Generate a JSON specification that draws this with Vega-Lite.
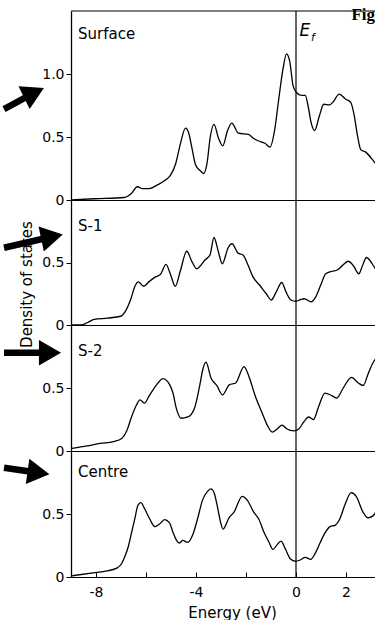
{
  "$schema": "https://vega.github.io/schema/vega-lite/v6.json",
  "background": "white",
  "padding": {"left": 0, "top": 6, "right": 0, "bottom": 0},
  "autosize": {"type": "pad"},
  "bounds": "flush",
  "spacing": 0,
  "config": {
    "view": {"stroke": null},
    "font": "DejaVu Sans",
    "axis": {
      "grid": false,
      "domainColor": "black",
      "tickColor": "black",
      "labelColor": "black",
      "titleColor": "black",
      "labelFont": "DejaVu Sans",
      "titleFont": "DejaVu Sans",
      "labelFontSize": 14,
      "titleFontSize": 15,
      "titleFontWeight": "normal"
    }
  },
  "datasets": {
    "dos": [
      {"panel": "Surface", "energy": -8.97, "dos": 0.0},
      {"panel": "Surface", "energy": -8.06, "dos": 0.01},
      {"panel": "Surface", "energy": -6.87, "dos": 0.02},
      {"panel": "Surface", "energy": -6.6, "dos": 0.05},
      {"panel": "Surface", "energy": -6.34, "dos": 0.105},
      {"panel": "Surface", "energy": -6.14, "dos": 0.09},
      {"panel": "Surface", "energy": -5.87, "dos": 0.09},
      {"panel": "Surface", "energy": -5.54, "dos": 0.12},
      {"panel": "Surface", "energy": -5.21, "dos": 0.16},
      {"panel": "Surface", "energy": -5.01, "dos": 0.2},
      {"panel": "Surface", "energy": -4.81, "dos": 0.29},
      {"panel": "Surface", "energy": -4.62, "dos": 0.45},
      {"panel": "Surface", "energy": -4.42, "dos": 0.57},
      {"panel": "Surface", "energy": -4.29, "dos": 0.53},
      {"panel": "Surface", "energy": -4.15, "dos": 0.4},
      {"panel": "Surface", "energy": -4.02, "dos": 0.28},
      {"panel": "Surface", "energy": -3.82, "dos": 0.23},
      {"panel": "Surface", "energy": -3.69, "dos": 0.21},
      {"panel": "Surface", "energy": -3.56, "dos": 0.29},
      {"panel": "Surface", "energy": -3.43, "dos": 0.5},
      {"panel": "Surface", "energy": -3.28, "dos": 0.6},
      {"panel": "Surface", "energy": -3.1, "dos": 0.49},
      {"panel": "Surface", "energy": -2.93, "dos": 0.43},
      {"panel": "Surface", "energy": -2.74, "dos": 0.55},
      {"panel": "Surface", "energy": -2.57, "dos": 0.61},
      {"panel": "Surface", "energy": -2.3, "dos": 0.53},
      {"panel": "Surface", "energy": -1.9, "dos": 0.52},
      {"panel": "Surface", "energy": -1.71, "dos": 0.49},
      {"panel": "Surface", "energy": -1.51, "dos": 0.47},
      {"panel": "Surface", "energy": -1.24, "dos": 0.45},
      {"panel": "Surface", "energy": -1.04, "dos": 0.42},
      {"panel": "Surface", "energy": -0.85, "dos": 0.56},
      {"panel": "Surface", "energy": -0.71, "dos": 0.77},
      {"panel": "Surface", "energy": -0.52, "dos": 1.04},
      {"panel": "Surface", "energy": -0.38, "dos": 1.16},
      {"panel": "Surface", "energy": -0.25, "dos": 1.1},
      {"panel": "Surface", "energy": -0.12, "dos": 0.91},
      {"panel": "Surface", "energy": 0.01, "dos": 0.855},
      {"panel": "Surface", "energy": 0.21, "dos": 0.83},
      {"panel": "Surface", "energy": 0.37, "dos": 0.83},
      {"panel": "Surface", "energy": 0.48, "dos": 0.75},
      {"panel": "Surface", "energy": 0.61, "dos": 0.61},
      {"panel": "Surface", "energy": 0.74, "dos": 0.55},
      {"panel": "Surface", "energy": 0.94, "dos": 0.67},
      {"panel": "Surface", "energy": 1.11, "dos": 0.76},
      {"panel": "Surface", "energy": 1.34, "dos": 0.755},
      {"panel": "Surface", "energy": 1.47, "dos": 0.775},
      {"panel": "Surface", "energy": 1.73, "dos": 0.84},
      {"panel": "Surface", "energy": 1.99, "dos": 0.8},
      {"panel": "Surface", "energy": 2.19, "dos": 0.775},
      {"panel": "Surface", "energy": 2.33, "dos": 0.67},
      {"panel": "Surface", "energy": 2.46, "dos": 0.51},
      {"panel": "Surface", "energy": 2.59, "dos": 0.4},
      {"panel": "Surface", "energy": 2.79, "dos": 0.38},
      {"panel": "Surface", "energy": 3.06, "dos": 0.32},
      {"panel": "Surface", "energy": 3.25, "dos": 0.27},

      {"panel": "S-1", "energy": -9.0, "dos": 0.0},
      {"panel": "S-1", "energy": -8.6, "dos": 0.0},
      {"panel": "S-1", "energy": -8.33, "dos": 0.02},
      {"panel": "S-1", "energy": -8.07, "dos": 0.045},
      {"panel": "S-1", "energy": -7.54, "dos": 0.055},
      {"panel": "S-1", "energy": -7.01, "dos": 0.07},
      {"panel": "S-1", "energy": -6.81, "dos": 0.115},
      {"panel": "S-1", "energy": -6.62, "dos": 0.2},
      {"panel": "S-1", "energy": -6.42, "dos": 0.32},
      {"panel": "S-1", "energy": -6.31, "dos": 0.345},
      {"panel": "S-1", "energy": -6.09, "dos": 0.31},
      {"panel": "S-1", "energy": -5.89, "dos": 0.345},
      {"panel": "S-1", "energy": -5.62, "dos": 0.385},
      {"panel": "S-1", "energy": -5.42, "dos": 0.405},
      {"panel": "S-1", "energy": -5.2, "dos": 0.485},
      {"panel": "S-1", "energy": -5.03, "dos": 0.41},
      {"panel": "S-1", "energy": -4.83, "dos": 0.31},
      {"panel": "S-1", "energy": -4.63, "dos": 0.43},
      {"panel": "S-1", "energy": -4.37, "dos": 0.59},
      {"panel": "S-1", "energy": -4.17, "dos": 0.51},
      {"panel": "S-1", "energy": -3.97, "dos": 0.45},
      {"panel": "S-1", "energy": -3.64, "dos": 0.52},
      {"panel": "S-1", "energy": -3.44, "dos": 0.56},
      {"panel": "S-1", "energy": -3.28, "dos": 0.7},
      {"panel": "S-1", "energy": -3.11, "dos": 0.59},
      {"panel": "S-1", "energy": -2.95, "dos": 0.49},
      {"panel": "S-1", "energy": -2.71, "dos": 0.62},
      {"panel": "S-1", "energy": -2.56, "dos": 0.65},
      {"panel": "S-1", "energy": -2.32, "dos": 0.575},
      {"panel": "S-1", "energy": -2.12, "dos": 0.56},
      {"panel": "S-1", "energy": -1.92, "dos": 0.48},
      {"panel": "S-1", "energy": -1.72, "dos": 0.385},
      {"panel": "S-1", "energy": -1.46, "dos": 0.32},
      {"panel": "S-1", "energy": -1.19, "dos": 0.25},
      {"panel": "S-1", "energy": -0.99, "dos": 0.2},
      {"panel": "S-1", "energy": -0.79, "dos": 0.265},
      {"panel": "S-1", "energy": -0.57, "dos": 0.34},
      {"panel": "S-1", "energy": -0.4, "dos": 0.265},
      {"panel": "S-1", "energy": -0.2, "dos": 0.2},
      {"panel": "S-1", "energy": 0.0, "dos": 0.19},
      {"panel": "S-1", "energy": 0.2, "dos": 0.205},
      {"panel": "S-1", "energy": 0.33, "dos": 0.21},
      {"panel": "S-1", "energy": 0.6, "dos": 0.185},
      {"panel": "S-1", "energy": 0.79, "dos": 0.225},
      {"panel": "S-1", "energy": 0.99, "dos": 0.32},
      {"panel": "S-1", "energy": 1.19, "dos": 0.41},
      {"panel": "S-1", "energy": 1.45, "dos": 0.43},
      {"panel": "S-1", "energy": 1.65, "dos": 0.44},
      {"panel": "S-1", "energy": 1.85, "dos": 0.475},
      {"panel": "S-1", "energy": 2.09, "dos": 0.51},
      {"panel": "S-1", "energy": 2.31, "dos": 0.47},
      {"panel": "S-1", "energy": 2.51, "dos": 0.41},
      {"panel": "S-1", "energy": 2.67, "dos": 0.48},
      {"panel": "S-1", "energy": 2.82, "dos": 0.54},
      {"panel": "S-1", "energy": 2.98, "dos": 0.51},
      {"panel": "S-1", "energy": 3.11, "dos": 0.47},
      {"panel": "S-1", "energy": 3.25, "dos": 0.43},

      {"panel": "S-2", "energy": -8.96, "dos": 0.02},
      {"panel": "S-2", "energy": -8.36, "dos": 0.04},
      {"panel": "S-2", "energy": -7.83, "dos": 0.06},
      {"panel": "S-2", "energy": -7.3, "dos": 0.075},
      {"panel": "S-2", "energy": -6.97, "dos": 0.1},
      {"panel": "S-2", "energy": -6.77, "dos": 0.16},
      {"panel": "S-2", "energy": -6.58, "dos": 0.27},
      {"panel": "S-2", "energy": -6.38, "dos": 0.365},
      {"panel": "S-2", "energy": -6.24, "dos": 0.405},
      {"panel": "S-2", "energy": -6.07, "dos": 0.38},
      {"panel": "S-2", "energy": -5.85, "dos": 0.445},
      {"panel": "S-2", "energy": -5.58, "dos": 0.525},
      {"panel": "S-2", "energy": -5.32, "dos": 0.575},
      {"panel": "S-2", "energy": -5.05, "dos": 0.525},
      {"panel": "S-2", "energy": -4.92, "dos": 0.46},
      {"panel": "S-2", "energy": -4.79, "dos": 0.34},
      {"panel": "S-2", "energy": -4.59, "dos": 0.26},
      {"panel": "S-2", "energy": -4.33, "dos": 0.27},
      {"panel": "S-2", "energy": -4.06, "dos": 0.34},
      {"panel": "S-2", "energy": -3.86, "dos": 0.51},
      {"panel": "S-2", "energy": -3.73, "dos": 0.645},
      {"panel": "S-2", "energy": -3.6, "dos": 0.705},
      {"panel": "S-2", "energy": -3.4, "dos": 0.58},
      {"panel": "S-2", "energy": -3.17, "dos": 0.52},
      {"panel": "S-2", "energy": -2.94, "dos": 0.445},
      {"panel": "S-2", "energy": -2.67, "dos": 0.525},
      {"panel": "S-2", "energy": -2.41, "dos": 0.54},
      {"panel": "S-2", "energy": -2.08, "dos": 0.67},
      {"panel": "S-2", "energy": -1.88, "dos": 0.59},
      {"panel": "S-2", "energy": -1.62, "dos": 0.43},
      {"panel": "S-2", "energy": -1.35, "dos": 0.3},
      {"panel": "S-2", "energy": -1.15, "dos": 0.205},
      {"panel": "S-2", "energy": -0.95, "dos": 0.15},
      {"panel": "S-2", "energy": -0.75, "dos": 0.175},
      {"panel": "S-2", "energy": -0.56, "dos": 0.205},
      {"panel": "S-2", "energy": -0.36, "dos": 0.175},
      {"panel": "S-2", "energy": -0.09, "dos": 0.16},
      {"panel": "S-2", "energy": 0.11, "dos": 0.175},
      {"panel": "S-2", "energy": 0.31, "dos": 0.23},
      {"panel": "S-2", "energy": 0.5, "dos": 0.27},
      {"panel": "S-2", "energy": 0.7, "dos": 0.25},
      {"panel": "S-2", "energy": 0.9, "dos": 0.35},
      {"panel": "S-2", "energy": 1.16, "dos": 0.46},
      {"panel": "S-2", "energy": 1.43, "dos": 0.44},
      {"panel": "S-2", "energy": 1.63, "dos": 0.42},
      {"panel": "S-2", "energy": 1.89, "dos": 0.5},
      {"panel": "S-2", "energy": 2.22, "dos": 0.585},
      {"panel": "S-2", "energy": 2.49, "dos": 0.54},
      {"panel": "S-2", "energy": 2.69, "dos": 0.52},
      {"panel": "S-2", "energy": 2.88, "dos": 0.61},
      {"panel": "S-2", "energy": 3.08, "dos": 0.7},
      {"panel": "S-2", "energy": 3.21, "dos": 0.74},

      {"panel": "Centre", "energy": -8.95, "dos": 0.01},
      {"panel": "Centre", "energy": -8.04, "dos": 0.035},
      {"panel": "Centre", "energy": -7.51, "dos": 0.05},
      {"panel": "Centre", "energy": -7.17, "dos": 0.07},
      {"panel": "Centre", "energy": -6.98, "dos": 0.105},
      {"panel": "Centre", "energy": -6.85, "dos": 0.16},
      {"panel": "Centre", "energy": -6.71, "dos": 0.24},
      {"panel": "Centre", "energy": -6.58, "dos": 0.35},
      {"panel": "Centre", "energy": -6.45, "dos": 0.46},
      {"panel": "Centre", "energy": -6.32, "dos": 0.57},
      {"panel": "Centre", "energy": -6.21, "dos": 0.59},
      {"panel": "Centre", "energy": -6.05, "dos": 0.54},
      {"panel": "Centre", "energy": -5.85, "dos": 0.46},
      {"panel": "Centre", "energy": -5.65, "dos": 0.4},
      {"panel": "Centre", "energy": -5.46, "dos": 0.42},
      {"panel": "Centre", "energy": -5.26, "dos": 0.455},
      {"panel": "Centre", "energy": -5.06, "dos": 0.43},
      {"panel": "Centre", "energy": -4.93, "dos": 0.36},
      {"panel": "Centre", "energy": -4.79, "dos": 0.295},
      {"panel": "Centre", "energy": -4.66, "dos": 0.27},
      {"panel": "Centre", "energy": -4.53, "dos": 0.29},
      {"panel": "Centre", "energy": -4.33, "dos": 0.275},
      {"panel": "Centre", "energy": -4.13, "dos": 0.335},
      {"panel": "Centre", "energy": -3.94, "dos": 0.46},
      {"panel": "Centre", "energy": -3.74, "dos": 0.61},
      {"panel": "Centre", "energy": -3.54, "dos": 0.68},
      {"panel": "Centre", "energy": -3.4, "dos": 0.7},
      {"panel": "Centre", "energy": -3.27, "dos": 0.665},
      {"panel": "Centre", "energy": -3.14, "dos": 0.555},
      {"panel": "Centre", "energy": -3.01, "dos": 0.43},
      {"panel": "Centre", "energy": -2.92, "dos": 0.38},
      {"panel": "Centre", "energy": -2.68, "dos": 0.47},
      {"panel": "Centre", "energy": -2.48, "dos": 0.515},
      {"panel": "Centre", "energy": -2.15, "dos": 0.64},
      {"panel": "Centre", "energy": -1.95, "dos": 0.61},
      {"panel": "Centre", "energy": -1.69, "dos": 0.515},
      {"panel": "Centre", "energy": -1.49, "dos": 0.46},
      {"panel": "Centre", "energy": -1.29, "dos": 0.36},
      {"panel": "Centre", "energy": -1.09, "dos": 0.28},
      {"panel": "Centre", "energy": -0.92, "dos": 0.22},
      {"panel": "Centre", "energy": -0.76, "dos": 0.255},
      {"panel": "Centre", "energy": -0.6, "dos": 0.285},
      {"panel": "Centre", "energy": -0.43, "dos": 0.225},
      {"panel": "Centre", "energy": -0.23, "dos": 0.145},
      {"panel": "Centre", "energy": -0.03, "dos": 0.125},
      {"panel": "Centre", "energy": 0.17, "dos": 0.135},
      {"panel": "Centre", "energy": 0.37, "dos": 0.155},
      {"panel": "Centre", "energy": 0.59, "dos": 0.14},
      {"panel": "Centre", "energy": 0.76, "dos": 0.185},
      {"panel": "Centre", "energy": 0.96, "dos": 0.27},
      {"panel": "Centre", "energy": 1.16, "dos": 0.35},
      {"panel": "Centre", "energy": 1.36, "dos": 0.4},
      {"panel": "Centre", "energy": 1.56, "dos": 0.41},
      {"panel": "Centre", "energy": 1.75, "dos": 0.46},
      {"panel": "Centre", "energy": 1.95, "dos": 0.57},
      {"panel": "Centre", "energy": 2.21, "dos": 0.67},
      {"panel": "Centre", "energy": 2.41, "dos": 0.64},
      {"panel": "Centre", "energy": 2.68, "dos": 0.515},
      {"panel": "Centre", "energy": 2.88, "dos": 0.47},
      {"panel": "Centre", "energy": 3.08, "dos": 0.485},
      {"panel": "Centre", "energy": 3.27, "dos": 0.545}
    ],
    "notes": [
      {"panel": "Surface", "role": "name", "text": "Surface", "energy": -8.72, "dos": 1.317},
      {"panel": "S-1", "role": "name", "text": "S-1", "energy": -8.72, "dos": 0.79},
      {"panel": "S-2", "role": "name", "text": "S-2", "energy": -8.72, "dos": 0.79},
      {"panel": "Centre", "role": "name", "text": "Centre", "energy": -8.72, "dos": 0.83},
      {"panel": "Surface", "role": "fermi", "text": "E", "energy": 0.14, "dos": 1.34},
      {"panel": "Surface", "role": "fermi-sub", "text": "f", "energy": 0.6, "dos": 1.285},
      {"panel": "Surface", "role": "fig", "text": "Fig", "energy": 3.16, "dos": 1.5}
    ],
    "arrows": [
      {"panel": "Surface", "tailE": -11.68, "tailD": 0.722, "headE": -10.48, "headD": 0.851, "direction": -26},
      {"panel": "S-1", "tailE": -11.68, "tailD": 0.618, "headE": -9.76, "headD": 0.706, "direction": -12},
      {"panel": "S-2", "tailE": -11.68, "tailD": 0.78, "headE": -9.84, "headD": 0.78, "direction": 0},
      {"panel": "Centre", "tailE": -11.68, "tailD": 0.867, "headE": -10.3, "headD": 0.827, "direction": 8}
    ],
    "marker": [{}]
  },
  "vconcat": [
    {
      "width": 304,
      "height": 189,
      "layer": [
        {
          "data": {"name": "dos"},
          "transform": [{"filter": "datum.panel === 'Surface'"}],
          "mark": {"type": "line", "interpolate": "monotone", "color": "black", "strokeWidth": 1.3, "clip": true},
          "encoding": {
            "x": {"field": "energy", "type": "quantitative", "title": null, "scale": {"domain": [-9, 3.16], "nice": false, "zero": false},
                  "axis": {"labels": false, "ticks": false, "title": null}},
            "y": {"field": "dos", "type": "quantitative", "title": null, "scale": {"domain": [0, 1.5], "nice": false},
                  "axis": {"values": [0, 0.5, 1], "labelExpr": "datum.value == 0 ? '0' : format(datum.value, '.1f')", "tickSize": 5, "labelPadding": 2, "domainWidth": 1.3, "title": null}}
          }
        },
        {"data": {"name": "marker"}, "mark": {"type": "rule", "color": "black", "strokeWidth": 1.2}, "encoding": {"x": {"datum": 0, "title": null}}},
        {"data": {"name": "marker"}, "mark": {"type": "rule", "color": "black", "strokeWidth": 1.2}, "encoding": {"y": {"datum": 1.5, "title": null}}},
        {
          "data": {"name": "notes"},
          "transform": [{"filter": "datum.panel === 'Surface' && datum.role === 'name'"}],
          "mark": {"type": "text", "align": "left", "baseline": "middle", "fontSize": 15, "font": "DejaVu Sans", "color": "black"},
          "encoding": {"x": {"field": "energy", "type": "quantitative", "title": null}, "y": {"field": "dos", "type": "quantitative", "title": null}, "text": {"field": "text"}}
        },
        {
          "data": {"name": "notes"},
          "transform": [{"filter": "datum.role === 'fermi'"}],
          "mark": {"type": "text", "align": "left", "baseline": "middle", "fontSize": 17, "fontStyle": "italic", "font": "DejaVu Sans", "color": "black"},
          "encoding": {"x": {"field": "energy", "type": "quantitative", "title": null}, "y": {"field": "dos", "type": "quantitative", "title": null}, "text": {"field": "text"}}
        },
        {
          "data": {"name": "notes"},
          "transform": [{"filter": "datum.role === 'fermi-sub'"}],
          "mark": {"type": "text", "align": "left", "baseline": "middle", "fontSize": 11, "fontStyle": "italic", "font": "DejaVu Sans", "color": "black"},
          "encoding": {"x": {"field": "energy", "type": "quantitative", "title": null}, "y": {"field": "dos", "type": "quantitative", "title": null}, "text": {"field": "text"}}
        },
        {
          "data": {"name": "notes"},
          "transform": [{"filter": "datum.role === 'fig'"}],
          "mark": {"type": "text", "align": "right", "baseline": "middle", "dy": 4, "fontSize": 17, "fontWeight": "bold", "font": "Liberation Serif", "color": "black"},
          "encoding": {"x": {"field": "energy", "type": "quantitative", "title": null}, "y": {"field": "dos", "type": "quantitative", "title": null}, "text": {"field": "text"}}
        },
        {
          "data": {"name": "arrows"},
          "transform": [{"filter": "datum.panel === 'Surface'"}],
          "mark": {"type": "rule", "color": "black", "strokeWidth": 6.5, "strokeCap": "butt"},
          "encoding": {"x": {"field": "tailE", "type": "quantitative", "title": null}, "x2": {"field": "headE"}, "y": {"field": "tailD", "type": "quantitative", "title": null}, "y2": {"field": "headD"}}
        },
        {
          "data": {"name": "arrows"},
          "transform": [{"filter": "datum.panel === 'Surface'"}],
          "mark": {"type": "point", "shape": "triangle-right", "filled": true, "size": 650, "color": "black", "opacity": 1},
          "encoding": {"x": {"field": "headE", "type": "quantitative", "title": null}, "y": {"field": "headD", "type": "quantitative", "title": null}, "angle": {"field": "direction", "type": "quantitative", "scale": null}}
        }
      ]
    },
    {
      "width": 304,
      "height": 125,
      "layer": [
        {
          "data": {"name": "dos"},
          "transform": [{"filter": "datum.panel === 'S-1'"}],
          "mark": {"type": "line", "interpolate": "monotone", "color": "black", "strokeWidth": 1.3, "clip": true},
          "encoding": {
            "x": {"field": "energy", "type": "quantitative", "title": null, "scale": {"domain": [-9, 3.16], "nice": false, "zero": false},
                  "axis": {"labels": false, "ticks": false, "title": null}},
            "y": {"field": "dos", "type": "quantitative", "title": "Density of states", "scale": {"domain": [0, 1], "nice": false},
                  "axis": {"values": [0, 0.5], "labelExpr": "datum.value == 0 ? '0' : format(datum.value, '.1f')", "tickSize": 5, "labelPadding": 2, "domainWidth": 1.3,
                           "titleX": -37, "titleY": 84}}
          }
        },
        {"data": {"name": "marker"}, "mark": {"type": "rule", "color": "black", "strokeWidth": 1.2}, "encoding": {"x": {"datum": 0, "title": null}}},
        {
          "data": {"name": "notes"},
          "transform": [{"filter": "datum.panel === 'S-1' && datum.role === 'name'"}],
          "mark": {"type": "text", "align": "left", "baseline": "middle", "fontSize": 15, "font": "DejaVu Sans", "color": "black"},
          "encoding": {"x": {"field": "energy", "type": "quantitative", "title": null}, "y": {"field": "dos", "type": "quantitative", "title": "Density of states"}, "text": {"field": "text"}}
        },
        {
          "data": {"name": "arrows"},
          "transform": [{"filter": "datum.panel === 'S-1'"}],
          "mark": {"type": "rule", "color": "black", "strokeWidth": 6.5, "strokeCap": "butt"},
          "encoding": {"x": {"field": "tailE", "type": "quantitative", "title": null}, "x2": {"field": "headE"}, "y": {"field": "tailD", "type": "quantitative", "title": "Density of states"}, "y2": {"field": "headD"}}
        },
        {
          "data": {"name": "arrows"},
          "transform": [{"filter": "datum.panel === 'S-1'"}],
          "mark": {"type": "point", "shape": "triangle-right", "filled": true, "size": 650, "color": "black", "opacity": 1},
          "encoding": {"x": {"field": "headE", "type": "quantitative", "title": null}, "y": {"field": "headD", "type": "quantitative", "title": "Density of states"}, "angle": {"field": "direction", "type": "quantitative", "scale": null}}
        }
      ]
    },
    {
      "width": 304,
      "height": 126,
      "layer": [
        {
          "data": {"name": "dos"},
          "transform": [{"filter": "datum.panel === 'S-2'"}],
          "mark": {"type": "line", "interpolate": "monotone", "color": "black", "strokeWidth": 1.3, "clip": true},
          "encoding": {
            "x": {"field": "energy", "type": "quantitative", "title": null, "scale": {"domain": [-9, 3.16], "nice": false, "zero": false},
                  "axis": {"labels": false, "ticks": false, "title": null}},
            "y": {"field": "dos", "type": "quantitative", "title": null, "scale": {"domain": [0, 1], "nice": false},
                  "axis": {"values": [0, 0.5], "labelExpr": "datum.value == 0 ? '0' : format(datum.value, '.1f')", "tickSize": 5, "labelPadding": 2, "domainWidth": 1.3, "title": null}}
          }
        },
        {"data": {"name": "marker"}, "mark": {"type": "rule", "color": "black", "strokeWidth": 1.2}, "encoding": {"x": {"datum": 0, "title": null}}},
        {
          "data": {"name": "notes"},
          "transform": [{"filter": "datum.panel === 'S-2' && datum.role === 'name'"}],
          "mark": {"type": "text", "align": "left", "baseline": "middle", "fontSize": 15, "font": "DejaVu Sans", "color": "black"},
          "encoding": {"x": {"field": "energy", "type": "quantitative", "title": null}, "y": {"field": "dos", "type": "quantitative", "title": null}, "text": {"field": "text"}}
        },
        {
          "data": {"name": "arrows"},
          "transform": [{"filter": "datum.panel === 'S-2'"}],
          "mark": {"type": "rule", "color": "black", "strokeWidth": 6.5, "strokeCap": "butt"},
          "encoding": {"x": {"field": "tailE", "type": "quantitative", "title": null}, "x2": {"field": "headE"}, "y": {"field": "tailD", "type": "quantitative", "title": null}, "y2": {"field": "headD"}}
        },
        {
          "data": {"name": "arrows"},
          "transform": [{"filter": "datum.panel === 'S-2'"}],
          "mark": {"type": "point", "shape": "triangle-right", "filled": true, "size": 650, "color": "black", "opacity": 1},
          "encoding": {"x": {"field": "headE", "type": "quantitative", "title": null}, "y": {"field": "headD", "type": "quantitative", "title": null}, "angle": {"field": "direction", "type": "quantitative", "scale": null}}
        }
      ]
    },
    {
      "width": 304,
      "height": 126,
      "layer": [
        {
          "data": {"name": "dos"},
          "transform": [{"filter": "datum.panel === 'Centre'"}],
          "mark": {"type": "line", "interpolate": "monotone", "color": "black", "strokeWidth": 1.3, "clip": true},
          "encoding": {
            "x": {"field": "energy", "type": "quantitative", "title": "Energy (eV)", "scale": {"domain": [-9, 3.16], "nice": false, "zero": false},
                  "axis": {"values": [-8, -6, -4, -2, 0, 2], "tickSize": -5, "labelPadding": 13,
                           "labelExpr": "datum.value == -6 || datum.value == -2 ? '' : (datum.value < 0 ? '-' + abs(datum.value) : '' + datum.value)",
                           "titlePadding": 6, "titleX": 161}},
            "y": {"field": "dos", "type": "quantitative", "title": null, "scale": {"domain": [0, 1], "nice": false},
                  "axis": {"values": [0, 0.5], "labelExpr": "datum.value == 0 ? '0' : format(datum.value, '.1f')", "tickSize": 5, "labelPadding": 2, "domainWidth": 1.3, "title": null}}
          }
        },
        {"data": {"name": "marker"}, "mark": {"type": "rule", "color": "black", "strokeWidth": 1.2}, "encoding": {"x": {"datum": 0, "title": "Energy (eV)"}}},
        {
          "data": {"name": "notes"},
          "transform": [{"filter": "datum.panel === 'Centre' && datum.role === 'name'"}],
          "mark": {"type": "text", "align": "left", "baseline": "middle", "fontSize": 15, "font": "DejaVu Sans", "color": "black"},
          "encoding": {"x": {"field": "energy", "type": "quantitative", "title": "Energy (eV)"}, "y": {"field": "dos", "type": "quantitative", "title": null}, "text": {"field": "text"}}
        },
        {
          "data": {"name": "arrows"},
          "transform": [{"filter": "datum.panel === 'Centre'"}],
          "mark": {"type": "rule", "color": "black", "strokeWidth": 6.5, "strokeCap": "butt"},
          "encoding": {"x": {"field": "tailE", "type": "quantitative", "title": "Energy (eV)"}, "x2": {"field": "headE"}, "y": {"field": "tailD", "type": "quantitative", "title": null}, "y2": {"field": "headD"}}
        },
        {
          "data": {"name": "arrows"},
          "transform": [{"filter": "datum.panel === 'Centre'"}],
          "mark": {"type": "point", "shape": "triangle-right", "filled": true, "size": 650, "color": "black", "opacity": 1},
          "encoding": {"x": {"field": "headE", "type": "quantitative", "title": "Energy (eV)"}, "y": {"field": "headD", "type": "quantitative", "title": null}, "angle": {"field": "direction", "type": "quantitative", "scale": null}}
        }
      ]
    }
  ]
}
